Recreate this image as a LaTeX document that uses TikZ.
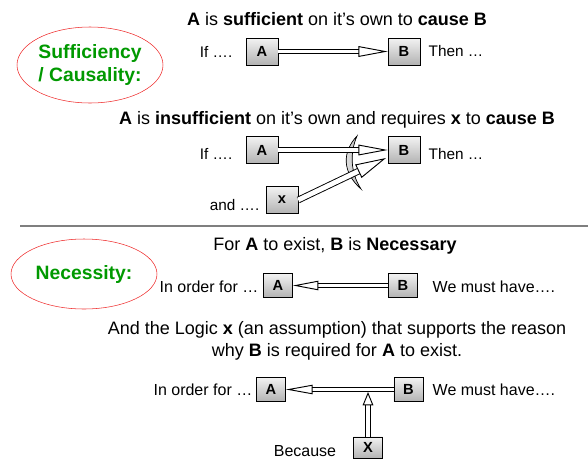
\documentclass[tikz,border=0pt]{standalone}
\usepackage{fontspec}
\setmainfont{Liberation Sans}
\usetikzlibrary{arrows.meta,positioning,shapes.geometric}
\definecolor{greenx}{HTML}{009900}
\definecolor{redx}{HTML}{EE2A2A}
\definecolor{rulegray}{HTML}{7F7F7F}
\tikzset{
  box/.style={draw=black,top color=gray!10,bottom color=gray!60,minimum width=24pt,minimum height=20pt,inner sep=0pt,font=\fontsize{11}{13}\selectfont\bfseries},
  sbox/.style={box,minimum width=22pt,minimum height=18pt},
  ar/.style={line width=0.7pt,double=white,double distance=2.8pt,-{Triangle[open,length=22pt,width=8pt]}},
  oval/.style={draw=redx,ellipse,inner sep=0pt,align=center,text=greenx,font=\fontsize{14.5}{17}\selectfont\bfseries},
  ttl/.style={font=\fontsize{13.5}{16}\selectfont,align=center},
  lbl/.style={font=\fontsize{11.5}{14}\selectfont},
  lbb/.style={font=\fontsize{12}{14}\selectfont}
}

\begin{document}
\begin{tikzpicture}[x=0.75pt,y=-0.75pt]
\useasboundingbox (0,0) rectangle (588,461);
% sufficiency
\node[oval,minimum width=109.5pt,minimum height=57pt] (suff) at (90,65) {Sufficiency\\/ Causality:};
\node[ttl] (t1) at (337,19) {\textbf{A} is \textbf{sufficient} on it’s own to \textbf{cause B}};
\node[box] (a1) at (262,51.5) {A};
\node[box] (b1) at (404,51.5) {B};
\node[lbl,anchor=east] (if1) at (237,51.5) {If ….};
\node[lbl,anchor=west] (then1) at (424,51.5) {Then …};
\draw[ar] (a1) -- (b1);
\node[ttl] (t2) at (337,120) {\textbf{A} is \textbf{insufficient} on it’s own and requires \textbf{x} to \textbf{cause B}};
\node[box] (a2) at (262,150) {A};
\node[box] (b2) at (404,150) {B};
\node[box] (x2) at (282,200) {x};
\node[lbl,anchor=east] (if2) at (237,154) {If ….};
\node[lbl,anchor=west] (then2) at (424,154) {Then …};
\node[lbl,anchor=east] (and2) at (264,205) {and ….};
\coordinate (tip2) at (386,158);
\fill[left color=gray!15,right color=gray!60,draw=black,line width=0.5pt]
  (357,136) .. controls (342,152) and (342,172) .. (361,189)
  .. controls (350,172) and (350,152) .. cycle;
\draw[ar] (a2) -- (b2);
\draw[ar,double distance=3.6pt,-{Triangle[open,length=23pt,width=11pt]}] (x2.east) -- (tip2);
\draw[rulegray,line width=1.2pt] (20,226) -- (588,226);
% necessity
\node[oval,minimum width=109.5pt,minimum height=52.5pt] (nec) at (84,274) {Necessity:};
\node[ttl] (t3) at (335,246) {For \textbf{A} to exist, \textbf{B} is \textbf{Necessary}};
\node[sbox] (a3) at (278,285.5) {A};
\node[sbox] (b3) at (403,285.5) {B};
\node[lbb,anchor=east] (for3) at (263,287) {In order for …};
\node[lbb,anchor=west] (must3) at (428,287) {We must have….};
\draw[ar,-{Triangle[open,length=19pt,width=7pt]}] (b3) -- (a3);
\node[ttl] (t4) at (337,341) {And the Logic \textbf{x} (an assumption) that supports the reason\\why \textbf{B} is required for \textbf{A} to exist.};
\node[sbox] (a4) at (271,389.5) {A};
\node[sbox] (b4) at (408.5,389.5) {B};
\node[sbox,minimum height=16pt] (x4) at (368,447.5) {X};
\node[lbb,anchor=east] (for4) at (257,390) {In order for …};
\node[lbb,anchor=west] (must4) at (428,390) {We must have….};
\node[lbb] (bec4) at (305,451) {Because};
\coordinate (join4) at (368,392);
\draw[ar,-{Triangle[open,length=20pt,width=7pt]}] (b4) -- (a4);
\draw[ar,-{Triangle[open,length=10pt,width=8pt]}] (x4) -- (join4);
\end{tikzpicture}
\end{document}
